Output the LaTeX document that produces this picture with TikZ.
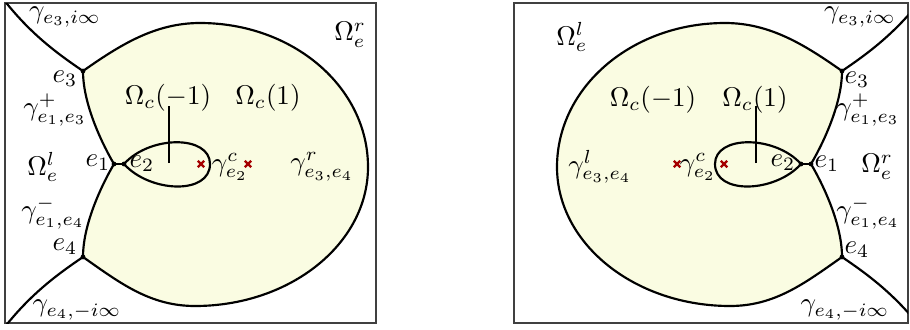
\documentclass[tikz,border=0pt]{standalone}
\usetikzlibrary{shapes.misc}
\definecolor{sheetfill}{RGB}{250,252,226}
\definecolor{polered}{RGB}{165,0,0}
\newcommand{\drawsheet}{%
  \coordinate (e3) at (83,71);
  \coordinate (e1) at (114,164);
  \coordinate (e2) at (124,164);
  \coordinate (e4) at (83,257);
  \coordinate (top) at (200,23);
  \coordinate (east) at (368,167);
  \coordinate (bot) at (195,306);
  \coordinate (loopend) at (210,164);
  \coordinate (cut) at (169,163);
  \coordinate (cuttop) at (169,106);
  \filldraw[sheet] (e3) .. controls (120,45) and (155,23) .. (top)
    .. controls (293,23) and (368,87) .. (east)
    .. controls (368,244) and (290,306) .. (bot)
    .. controls (150,306) and (120,283) .. (e4)
    .. controls (83,222) and (104,181) .. (e1)
    .. controls (104,147) and (83,106) .. (e3) -- cycle;
  \draw[curve] (e3) .. controls (55,52) and (25,30) .. (-5,-12);
  \draw[curve] (e4) .. controls (55,276) and (25,298) .. (-5,340);
  \draw[curve] (e1) -- (e2);
  \draw[curve] (e2) .. controls (150,135) and (210,135) .. (loopend)
    .. controls (210,195) and (150,193) .. (e2);
  \draw[thin] (cut) -- (cuttop);
  \foreach \p in {e1,e2,e3,e4} \fill (\p) circle (0.9pt);
  \node[pole] (pole1) at (201,164) {};
  \node[pole] (pole2) at (248,164) {};
}
\begin{document}
\begin{tikzpicture}[x=0.013cm, y=-0.013cm,
  curve/.style={line width=0.8pt},
  sheet/.style={curve, fill=sheetfill},
  frame/.style={draw=black!75, line width=0.5pt},
  pole/.style={cross out, draw=polered, line width=0.8pt, minimum size=1.6pt, inner sep=0pt}
]
  \useasboundingbox (0,0) rectangle (910,329);
  \draw[frame] (5,3) rectangle (376,323);
  \draw[frame] (514,3) rectangle (908,323);
  \begin{scope}
    \clip (5,3) rectangle (376,323);
    \drawsheet
  \end{scope}
  \begin{scope}
    \clip (514,3) rectangle (908,323);
    \begin{scope}[shift={(925,0)}, xscale=-1]
      \drawsheet
    \end{scope}
  \end{scope}
  \node (L-g3) at (65,17) {$\gamma_{e_3,i\infty}$};
  \node (L-Or) at (350,35) {$\Omega_e^r$};
  \node (L-e3) at (65,79) {$e_3$};
  \node (L-gp) at (55,110) {$\gamma^+_{e_1,e_3}$};
  \node (L-Ol) at (43,167) {$\Omega_e^l$};
  \node (L-e1) at (98,163) {$e_1$};
  \node (L-e2) at (142,164) {$e_2$};
  \node (L-Ocm) at (168,98) {$\Omega_c(-1)$};
  \node (L-Ocp) at (268,98) {$\Omega_c(1)$};
  \node (L-gc) at (230,167) {$\gamma^c_{e_2}$};
  \node (L-gr) at (322,167) {$\gamma^r_{e_3,e_4}$};
  \node (L-gm) at (53,213) {$\gamma^-_{e_1,e_4}$};
  \node (L-e4) at (65,247) {$e_4$};
  \node (L-g4) at (77,310) {$\gamma_{e_4,-i\infty}$};
  \node (R-Ol) at (572,37) {$\Omega_e^l$};
  \node (R-g3) at (860,17) {$\gamma_{e_3,i\infty}$};
  \node (R-e3) at (857,80) {$e_3$};
  \node (R-gp) at (868,110) {$\gamma^+_{e_1,e_3}$};
  \node (R-Ocm) at (653,100) {$\Omega_c(-1)$};
  \node (R-Ocp) at (755,100) {$\Omega_c(1)$};
  \node (R-gl) at (600,167) {$\gamma^l_{e_3,e_4}$};
  \node (R-gc) at (698,167) {$\gamma^c_{e_2}$};
  \node (R-e2) at (783,163) {$e_2$};
  \node (R-e1) at (827,164) {$e_1$};
  \node (R-Or) at (877,167) {$\Omega_e^r$};
  \node (R-gm) at (868,213) {$\gamma^-_{e_1,e_4}$};
  \node (R-e4) at (857,250) {$e_4$};
  \node (R-g4) at (845,310) {$\gamma_{e_4,-i\infty}$};
\end{tikzpicture}
\end{document}
